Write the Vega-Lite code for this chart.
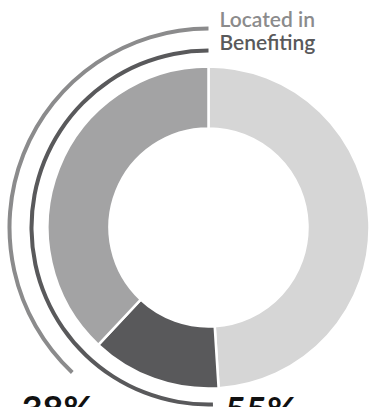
{
  "$schema": "https://vega.github.io/schema/vega-lite/v6.json",
  "width": 321,
  "height": 359,
  "autosize": {"type": "none"},
  "padding": {"left": 48, "top": 48, "right": 0, "bottom": 0},
  "background": "white",
  "config": {"view": {"stroke": null}},
  "datasets": {
    "shares": [
      {"segment": "A", "value": 49, "ord": 1},
      {"segment": "B", "value": 13, "ord": 2},
      {"segment": "C", "value": 38, "ord": 3}
    ],
    "series": [
      {"series": "Located in", "start": 62, "end": 100, "share": "38%"},
      {"series": "Benefiting", "start": 49.6, "end": 100, "share": "55%"}
    ]
  },
  "layer": [
    {
      "data": {"name": "shares"},
      "mark": {"type": "arc", "innerRadius": 99, "outerRadius": 161, "stroke": "white", "strokeWidth": 2.5},
      "encoding": {
        "theta": {"field": "value", "type": "quantitative", "stack": true, "scale": {"domain": [0, 100]}},
        "order": {"field": "ord", "type": "quantitative"},
        "color": {"field": "segment", "type": "nominal", "legend": null,
          "scale": {"domain": ["A", "B", "C"], "range": ["#d6d6d6", "#59595b", "#a3a3a4"]}}
      }
    },
    {
      "data": {"name": "series"},
      "transform": [{"filter": "datum.series === 'Located in'"}],
      "mark": {"type": "arc", "innerRadius": 197, "outerRadius": 201, "color": "#8b8b8c"},
      "encoding": {
        "theta": {"field": "start", "type": "quantitative", "stack": null, "scale": {"domain": [0, 100]}},
        "theta2": {"field": "end"}
      }
    },
    {
      "data": {"name": "series"},
      "transform": [{"filter": "datum.series === 'Benefiting'"}],
      "mark": {"type": "arc", "innerRadius": 175, "outerRadius": 179, "color": "#59595b"},
      "encoding": {
        "theta": {"field": "start", "type": "quantitative", "stack": null, "scale": {"domain": [0, 100]}},
        "theta2": {"field": "end"}
      }
    },
    {
      "data": {"name": "series"},
      "transform": [{"filter": "datum.series === 'Located in'"}],
      "mark": {"type": "text", "radius": 199, "align": "left", "baseline": "alphabetic", "dx": 11, "dy": -2, "fontSize": 21, "font": "Lato", "fontWeight": 600, "color": "#8b8b8c"},
      "encoding": {
        "theta": {"field": "end", "type": "quantitative", "stack": null, "scale": {"domain": [0, 100]}},
        "text": {"field": "series"}
      }
    },
    {
      "data": {"name": "series"},
      "transform": [{"filter": "datum.series === 'Benefiting'"}],
      "mark": {"type": "text", "radius": 177, "align": "left", "baseline": "alphabetic", "dx": 11, "dy": -1, "fontSize": 21, "font": "Lato", "fontWeight": 600, "color": "#59595b"},
      "encoding": {
        "theta": {"field": "end", "type": "quantitative", "stack": null, "scale": {"domain": [0, 100]}},
        "text": {"field": "series"}
      }
    },
    {
      "data": {"name": "series"},
      "transform": [{"filter": "datum.series === 'Located in'"}],
      "mark": {"type": "text", "radius": 267, "align": "left", "baseline": "alphabetic", "dx": -4, "fontSize": 36, "font": "Lato", "fontWeight": "bold", "color": "#111111"},
      "encoding": {
        "theta": {"field": "start", "type": "quantitative", "stack": null, "scale": {"domain": [0, 100]}},
        "text": {"field": "share"}
      }
    },
    {
      "data": {"name": "series"},
      "transform": [{"filter": "datum.series === 'Benefiting'"}],
      "mark": {"type": "text", "radius": 196, "align": "left", "baseline": "alphabetic", "dx": 12, "fontSize": 36, "font": "Lato", "fontWeight": "bold", "color": "#111111"},
      "encoding": {
        "theta": {"field": "start", "type": "quantitative", "stack": null, "scale": {"domain": [0, 100]}},
        "text": {"field": "share"}
      }
    }
  ]
}
